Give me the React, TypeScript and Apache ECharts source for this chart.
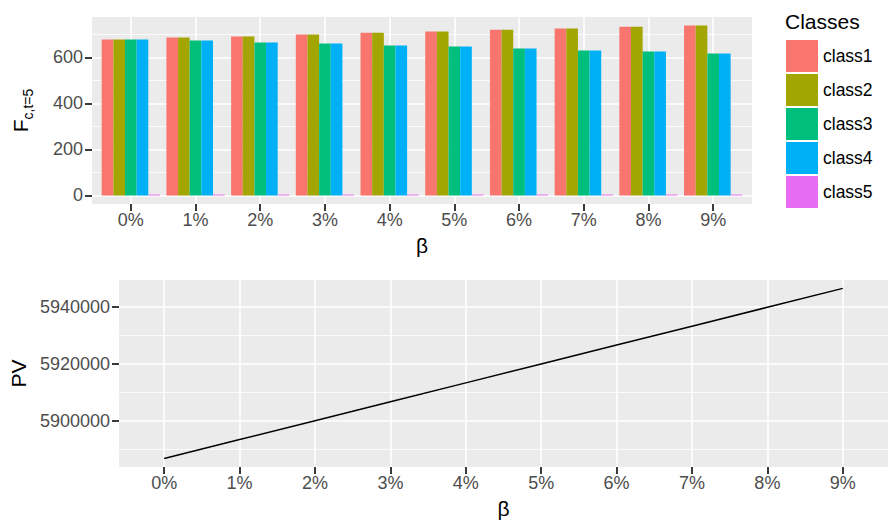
import React, { useEffect, useRef } from "react";
import * as echarts from "echarts";

const betaLabels = ["0%", "1%", "2%", "3%", "4%", "5%", "6%", "7%", "8%", "9%"];
const betaIndex = [0, 1, 2, 3, 4, 5, 6, 7, 8, 9];

const classNames = ["class1", "class2", "class3", "class4", "class5"];
const classColors = ["#F8766D", "#A3A500", "#00BF7D", "#00B0F6", "#E76BF3"];

const class1 = [678, 687, 691, 700, 707, 713, 721, 726, 734, 739];
const class2 = [678, 687, 691, 700, 707, 713, 721, 726, 734, 739];
const class3 = [678, 674, 665, 661, 652, 648, 639, 630, 626, 617];
const class4 = [678, 674, 665, 661, 652, 648, 639, 630, 626, 617];
const class5 = [4, 4, 4, 4, 4, 4, 4, 4, 4, 4];

const pv = [5886700, 5893350, 5900000, 5906650, 5913300, 5919950, 5926600, 5933250, 5939900, 5946550];

const fTicks = [0, 200, 400, 600];
const fMinor = [100, 300, 500, 700];
const pvTicks = [5900000, 5920000, 5940000];
const pvMinor = [5890000, 5910000, 5930000];

const FONT = "Liberation Sans, Arial, Helvetica, sans-serif";

const makeTick = (values: number[]) => ({
  show: true,
  inside: false,
  length: 7,
  customValues: values,
  lineStyle: { color: "#3A3A3A", width: 2, opacity: 1 },
});

export default function App() {
  const ref = useRef<HTMLDivElement>(null);

  useEffect(() => {
    if (!ref.current) return;
    const chart = echarts.init(ref.current, undefined, { renderer: "svg" });

    const classData = [class1, class2, class3, class4, class5];

    const xAxisBase = (gridIndex: number, gap: number) => ({
      gridIndex,
      type: "value",
      min: -0.6,
      max: 9.6,
      axisLine: { show: false, onZero: false },
      axisTick: makeTick(betaIndex),
      axisLabel: {
        customValues: betaIndex,
        formatter: (v: number) => betaLabels[Math.round(v)] ?? "",
        color: "#4D4D4D",
        fontSize: 18,
        fontFamily: FONT,
        margin: 7,
      },
      splitLine: { show: true, lineStyle: { color: "#FFFFFF", width: 1.6 } },
      name: "β",
      nameLocation: "middle",
      nameGap: gap,
      nameTextStyle: { fontSize: 21, color: "#000000", fontFamily: FONT },
    });

    const yMajor = (gridIndex: number, min: number, max: number, ticks: number[], extra: any) => ({
      gridIndex,
      type: "value",
      min,
      max,
      axisLine: { show: false, onZero: false },
      axisTick: makeTick(ticks),
      axisLabel: {
        customValues: ticks,
        formatter: (v: number) => String(v),
        color: "#4D4D4D",
        fontSize: 18,
        fontFamily: FONT,
        margin: 9,
      },
      splitLine: { show: true, lineStyle: { color: "#FFFFFF", width: 1.6 } },
      nameLocation: "middle",
      ...extra,
    });

    const yMinor = (gridIndex: number, min: number, max: number, ticks: number[]) => ({
      gridIndex,
      type: "value",
      position: "left",
      min,
      max,
      axisLine: { show: false, onZero: false },
      axisTick: { show: false, customValues: ticks },
      axisLabel: { show: false, customValues: ticks },
      splitLine: { show: true, lineStyle: { color: "#FFFFFF", width: 0.8 } },
    });

    const option: any = {
      animation: false,
      backgroundColor: "#FFFFFF",
      textStyle: { fontFamily: FONT },
      title: {
        text: "Classes",
        left: 785,
        top: 11,
        padding: 0,
        textStyle: { fontSize: 21, fontWeight: "normal", color: "#000000", fontFamily: FONT },
      },
      legend: {
        data: classNames,
        orient: "vertical",
        left: 786,
        top: 40,
        padding: 0,
        itemWidth: 32,
        itemHeight: 32,
        itemGap: 2,
        icon: "rect",
        textStyle: { fontSize: 17.5, color: "#000000", fontFamily: FONT },
      },
      grid: [
        { left: 92, top: 17, width: 660, height: 187, show: true, backgroundColor: "#EBEBEB", borderWidth: 0 },
        { left: 117, top: 280, width: 771, height: 187, show: true, backgroundColor: "#EBEBEB", borderWidth: 0 },
      ],
      xAxis: [xAxisBase(0, 31), xAxisBase(1, 31)],
      yAxis: [
        yMajor(0, -37, 776, fTicks, {
          name: "{F|F}{s|c,t=5}",
          nameGap: 57,
          nameTextStyle: {
            rich: {
              F: { fontSize: 21, color: "#000000", fontFamily: FONT, verticalAlign: "top", lineHeight: 22 },
              s: { fontSize: 14, color: "#000000", fontFamily: FONT, verticalAlign: "bottom", lineHeight: 25 },
            },
          },
        }),
        yMinor(0, -37, 776, fMinor),
        yMajor(1, 5883700, 5949500, pvTicks, {
          name: "PV",
          nameGap: 88,
          nameTextStyle: { fontSize: 21, color: "#000000", fontFamily: FONT },
        }),
        yMinor(1, 5883700, 5949500, pvMinor),
      ],
      series: [
        ...classNames.map((name, k) => ({
          name,
          type: "bar",
          xAxisIndex: 0,
          yAxisIndex: 0,
          barGap: "0%",
          barCategoryGap: "10%",
          itemStyle: { color: classColors[k] },
          data: betaIndex.map((x, i) => [x, classData[k][i]]),
        })),
        {
          name: "PV",
          type: "line",
          xAxisIndex: 1,
          yAxisIndex: 2,
          showSymbol: false,
          symbol: "none",
          lineStyle: { color: "#000000", width: 1.5 },
          data: betaIndex.map((x, i) => [x, pv[i]]),
        },
      ],
    };

    chart.setOption(option);
    return () => chart.dispose();
  }, []);

  return (
    <div
      ref={ref}
      style={{ position: "fixed", left: 0, top: 0, width: 888, height: 521, background: "#fff" }}
    />
  );
}
